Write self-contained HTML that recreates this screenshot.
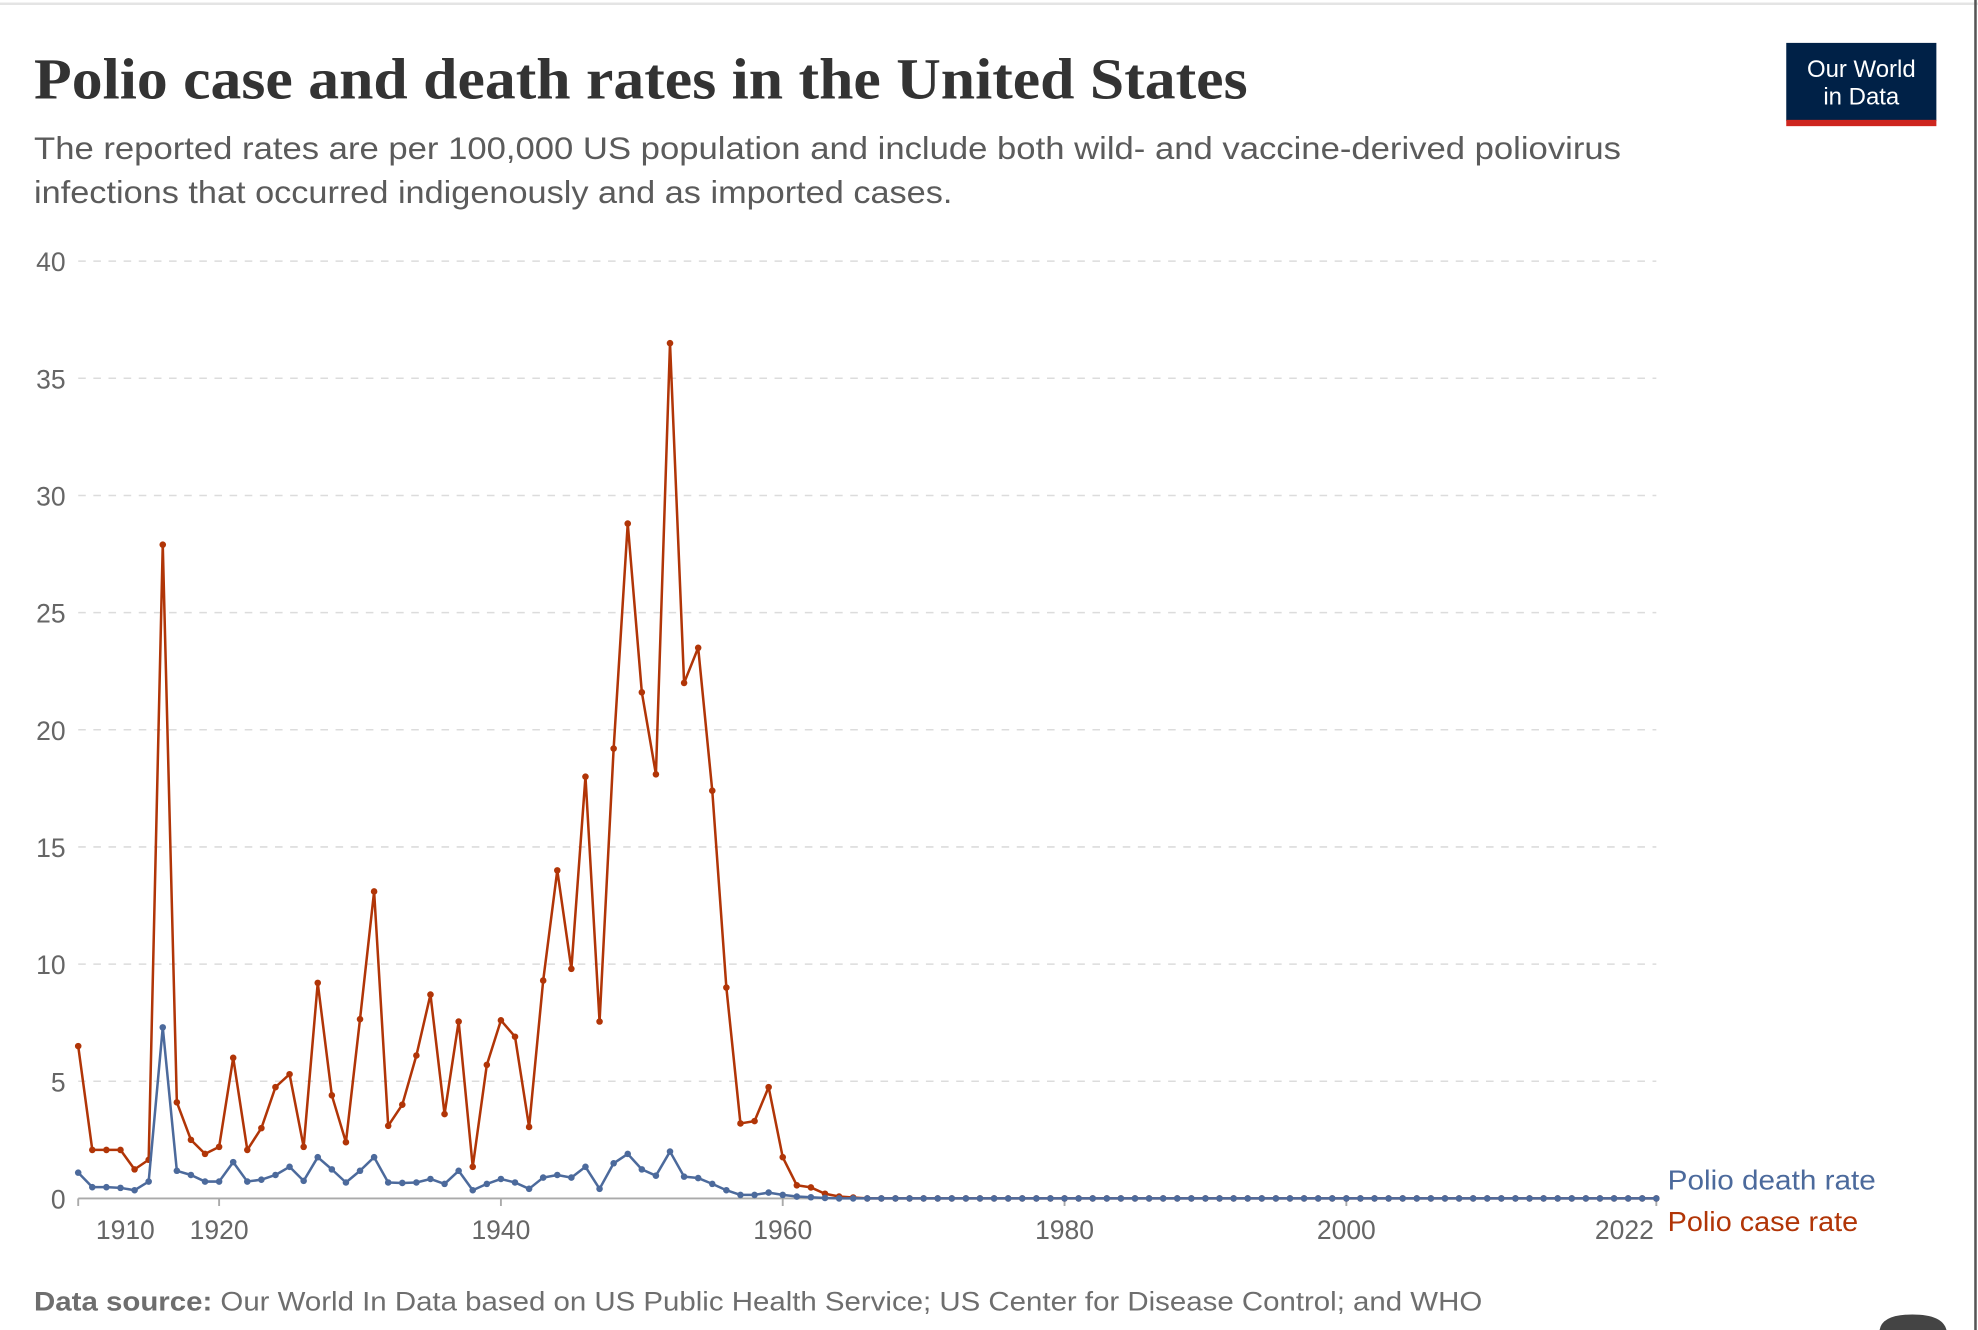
<!DOCTYPE html>
<html><head><meta charset="utf-8">
<style>
html,body{margin:0;padding:0;background:#fff;}
svg{display:block;}
</style></head>
<body>
<svg id="chart" width="1978" height="1330" viewBox="0 0 1568 1054.3" preserveAspectRatio="none" xmlns="http://www.w3.org/2000/svg" font-family="Liberation Sans, sans-serif">
  <rect x="0" y="0" width="1568" height="1054.3" fill="#fff"/>
  <line x1="0" y1="3" x2="1568" y2="3" stroke="#e4e4e4" stroke-width="2"/>
  <line x1="1566" y1="0" x2="1566" y2="1054.3" stroke="#555" stroke-width="2"/>
  <text x="27" y="78" style="font-family:'Liberation Serif',serif" font-weight="bold" font-size="46" fill="#333" textLength="962" lengthAdjust="spacingAndGlyphs">Polio case and death rates in the United States</text>
  <text x="27" y="126" font-size="25" fill="#5b5b5b" textLength="1258" lengthAdjust="spacingAndGlyphs">The reported rates are per 100,000 US population and include both wild- and vaccine-derived poliovirus</text>
  <text x="27" y="161" font-size="25" fill="#5b5b5b" textLength="728" lengthAdjust="spacingAndGlyphs">infections that occurred indigenously and as imported cases.</text>
  <g>
    <rect x="1416" y="34" width="119" height="62" fill="#002147"/>
    <rect x="1416" y="95" width="119" height="5" fill="#ce261e"/>
    <text x="1475.5" y="61" text-anchor="middle" font-size="19" fill="#fff">Our World</text>
    <text x="1475.5" y="83" text-anchor="middle" font-size="19" fill="#fff">in Data</text>
  </g>
  <g id="grid"></g>
  <g id="axes"></g>
  <g id="series"></g>
  <text x="1322" y="943" font-size="22" fill="#4c6a9c" textLength="165" lengthAdjust="spacingAndGlyphs">Polio death rate</text>
  <text x="1322" y="976" font-size="22" fill="#b13507" textLength="151" lengthAdjust="spacingAndGlyphs">Polio case rate</text>
  <text x="27" y="1039" font-size="21" fill="#6e6e6e" textLength="1148" lengthAdjust="spacingAndGlyphs"><tspan font-weight="bold">Data source:</tspan> Our World In Data based on US Public Health Service; US Center for Disease Control; and WHO</text>
  <path d="M1490 1054.3 Q1492 1042 1516 1042 Q1540 1042 1543 1054.3 Z" fill="#444"/>
</svg>
<script>
const startYear = 1910;
const endYear = 2022;
const yTicks = [0,5,10,15,20,25,30,35,40];
const xTicks = [1910,1920,1940,1960,1980,2000,2022];
const caseEarly = [6.5,2.07,2.07,2.07,1.24,1.65,27.9,4.1,2.5,1.9,2.2,6.0,2.07,3.0,4.75,5.3,2.2,9.2,4.4,2.4,7.65,13.1,3.1,4.0,6.1,8.7,3.6,7.55,1.35,5.7,7.6,6.9,3.05,9.3,14.0,9.8,18.0,7.55,19.2,28.8,21.6,18.1,36.5,22.0,23.5,17.4,9.0,3.2,3.3,4.75,1.76,0.56,0.47,0.2,0.08,0.04];
const deathEarly = [1.1,0.48,0.48,0.45,0.35,0.72,7.3,1.18,1.0,0.72,0.72,1.55,0.72,0.8,1.0,1.35,0.75,1.76,1.24,0.68,1.18,1.76,0.68,0.66,0.68,0.83,0.62,1.18,0.35,0.62,0.83,0.68,0.41,0.89,1.0,0.89,1.35,0.41,1.5,1.9,1.24,0.97,2.0,0.93,0.87,0.62,0.35,0.15,0.15,0.25,0.15,0.08,0.05,0.02];

const years = [];
for (let y = startYear; y <= endYear; y++) years.push(y);
const caseRate = years.map((y,i)=> i < caseEarly.length ? caseEarly[i] : 0);
const deathRate = years.map((y,i)=> i < deathEarly.length ? deathEarly[i] : 0);

const X0 = 62, X1 = 1313, Y0 = 950, Y1 = 207;
const xScale = yr => X0 + (yr - startYear) / (endYear - startYear) * (X1 - X0);
const yScale = v => Y0 - v / 40 * (Y0 - Y1);
const NS = "http://www.w3.org/2000/svg";
function mk(tag, attrs, parent){ const e=document.createElementNS(NS,tag); for(const k in attrs) e.setAttribute(k,attrs[k]); parent.appendChild(e); return e; }

const grid = document.getElementById('grid');
yTicks.forEach(t=>{
  const y = yScale(t);
  if (t>0) {
    const l = mk('line',{x1:X0,x2:X1,y1:y,y2:y,stroke:'#dcdcdc','stroke-width':1.2,'stroke-dasharray':'6,6'},grid);
    
    
  }
  const tx = mk('text',{x:52,y:y+8,'text-anchor':'end','font-size':21,fill:'#666'},grid);
  tx.textContent = t;
  
  
});
const axes = document.getElementById('axes');
const base = mk('line',{x1:X0,x2:X1,y1:Y0,y2:Y0,stroke:'#aaa','stroke-width':1.5},axes);


xTicks.forEach(t=>{
  const x = xScale(t);
  const tk = mk('line',{x1:x,x2:x,y1:Y0,y2:Y0+6,stroke:'#aaa','stroke-width':1.5},axes);
  
  
  let anchor = 'middle', dx = 0;
  if (t===startYear){ anchor='start'; dx=14; }
  if (t===endYear){ anchor='end'; dx=-2; }
  const tx = mk('text',{x:x+dx,y:Y0+32,'text-anchor':anchor,'font-size':21,fill:'#666'},axes);
  tx.textContent = t;
  
  
});

const series = document.getElementById('series');
function drawSeries(vals, color, name){
  const g = mk('g',{},series);
  
  
  const d = years.map((yr,i)=>(i?'L':'M')+xScale(yr).toFixed(2)+' '+yScale(vals[i]).toFixed(2)).join(' ');
  const p = mk('path',{d:d,fill:'none',stroke:color,'stroke-width':2,'stroke-linejoin':'round'},g);
  
  
  years.forEach((yr,i)=>{
    const c = mk('circle',{cx:xScale(yr),cy:yScale(vals[i]),r:2.6,fill:color},g);
    
    
  });
}
drawSeries(caseRate,'#b13507','case-rate-series');
drawSeries(deathRate,'#4c6a9c','death-rate-series');
</script>
</body></html>
